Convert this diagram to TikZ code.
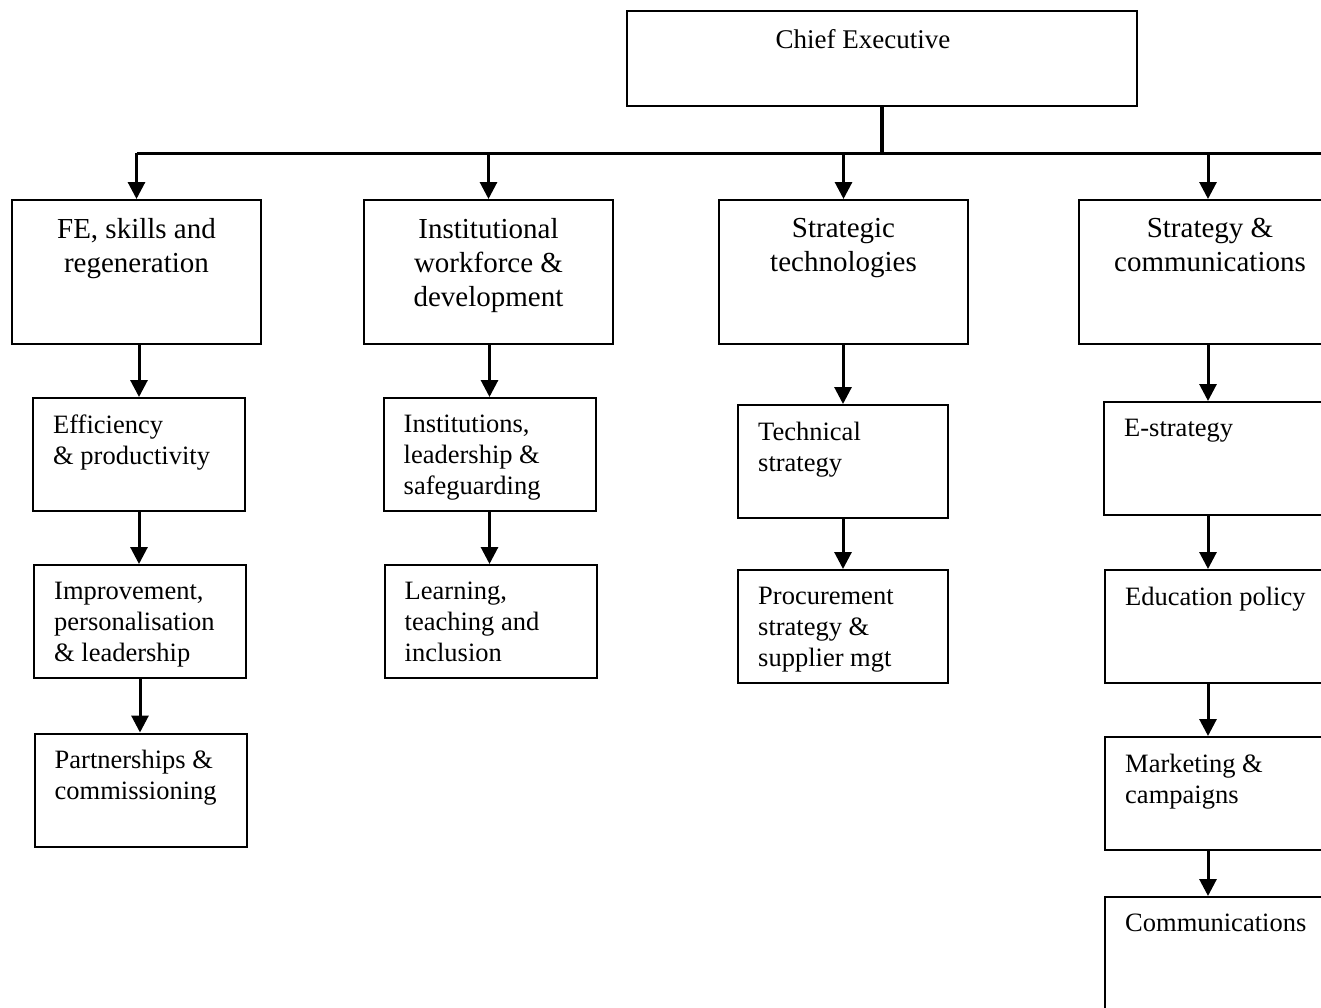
\documentclass[tikz,border=0pt]{standalone}
\usepackage{fontspec}
\setmainfont{Liberation Serif}
\usetikzlibrary{arrows.meta}

\begin{document}
\begin{tikzpicture}[x=1pt, y=-1pt, >={Triangle[width=17pt,length=17pt]},
  chiefbox/.style={draw, line width=2pt, minimum width=510pt, minimum height=95pt, inner sep=0pt},
  headbox/.style={draw, line width=2pt, minimum width=249pt, minimum height=144pt, inner sep=0pt},
  subbox/.style={draw, line width=2pt, minimum width=212pt, minimum height=113pt, inner sep=0pt},
  toptext/.style={font=\fontsize{29}{34}\selectfont, align=center, inner sep=0pt, anchor=north, yshift=-19.5pt},
  subtext/.style={font=\fontsize{26.5}{31}\selectfont, align=left, inner sep=0pt, anchor=north west, xshift=21pt, yshift=-17.5pt},
  link/.style={->, line width=3pt}]
\useasboundingbox (0,0) rectangle (1321,1007);
\clip (0,0) rectangle (1321,1007);

% Chief Executive
\node[chiefbox, label={[font=\fontsize{27}{32}\selectfont, inner sep=0pt, anchor=north, xshift=-19pt, yshift=-19.5pt]north:Chief Executive}] (chief) at (882,58.5) {};
\coordinate (bus) at (882,153);
\coordinate (busend) at (1330,153);
\coordinate (spine) at (1208,0);

% Directorates
\node[headbox, label={[toptext]north:{FE, skills and\\regeneration}}] (fe) at (136.5,272) {};
\node[headbox, label={[toptext]north:{Institutional\\workforce \&\\development}}] (inst) at (488.5,272) {};
\node[headbox, label={[toptext]north:{Strategic\\technologies}}] (tech) at (843.5,272) {};
\node[headbox, minimum width=262pt, label={[toptext]north:{Strategy \&\\communications}}] (strat) at (1210,272) {};

% Bus
\draw[line width=4.5pt] (chief.south) -- (bus);
\draw[line width=3pt] (fe.north |- bus) -- (busend);
\draw[link] (fe.north |- bus) -- (fe.north);
\draw[link] (inst.north |- bus) -- (inst.north);
\draw[link] (tech.north |- bus) -- (tech.north);
\draw[link] (spine |- bus) -- (spine |- strat.north);

% FE, skills and regeneration
\node[subbox, label={[subtext]north west:{Efficiency\\\& productivity}}] (eff) at (139,454.5) {};
\node[subbox, label={[subtext]north west:{Improvement,\\personalisation\\\& leadership}}] (impr) at (140,621.5) {};
\node[subbox, label={[subtext]north west:{Partnerships \&\\commissioning}}] (part) at (140.5,790) {};
\draw[link] (eff.north |- fe.south) -- (eff.north);
\draw[link] (eff.south) -- (eff.south |- impr.north);
\draw[link] (impr.south) -- (impr.south |- part.north);

% Institutional workforce & development
\node[subbox, label={[subtext]north west:{Institutions,\\leadership \&\\safeguarding}}] (lead) at (489.5,454.5) {};
\node[subbox, label={[subtext]north west:{Learning,\\teaching and\\inclusion}}] (learn) at (490.5,621.5) {};
\draw[link] (lead.north |- inst.south) -- (lead.north);
\draw[link] (lead.south) -- (lead.south |- learn.north);

% Strategic technologies
\node[subbox, minimum width=210pt, label={[subtext]north west:{Technical\\strategy}}] (techstr) at (843,461.5) {};
\node[subbox, minimum width=210pt, label={[subtext]north west:{Procurement\\strategy \&\\supplier mgt}}] (proc) at (843,626.5) {};
\draw[link] (techstr.north |- tech.south) -- (techstr.north);
\draw[link] (techstr.south) -- (techstr.south |- proc.north);

% Strategy & communications
\node[subbox, minimum width=240pt, label={[subtext]north west:E-strategy}] (estr) at (1224,458.5) {};
\node[subbox, minimum width=240pt, label={[subtext]north west:Education policy}] (edu) at (1225,626.5) {};
\node[subbox, minimum width=240pt, label={[subtext]north west:{Marketing \&\\campaigns}}] (mark) at (1225,793.5) {};
\node[subbox, minimum width=240pt, label={[subtext]north west:Communications}] (comms) at (1225,953.5) {};
\draw[link] (spine |- strat.south) -- (spine |- estr.north);
\draw[link] (spine |- estr.south) -- (spine |- edu.north);
\draw[link] (spine |- edu.south) -- (spine |- mark.north);
\draw[link] (spine |- mark.south) -- (spine |- comms.north);
\end{tikzpicture}
\end{document}
